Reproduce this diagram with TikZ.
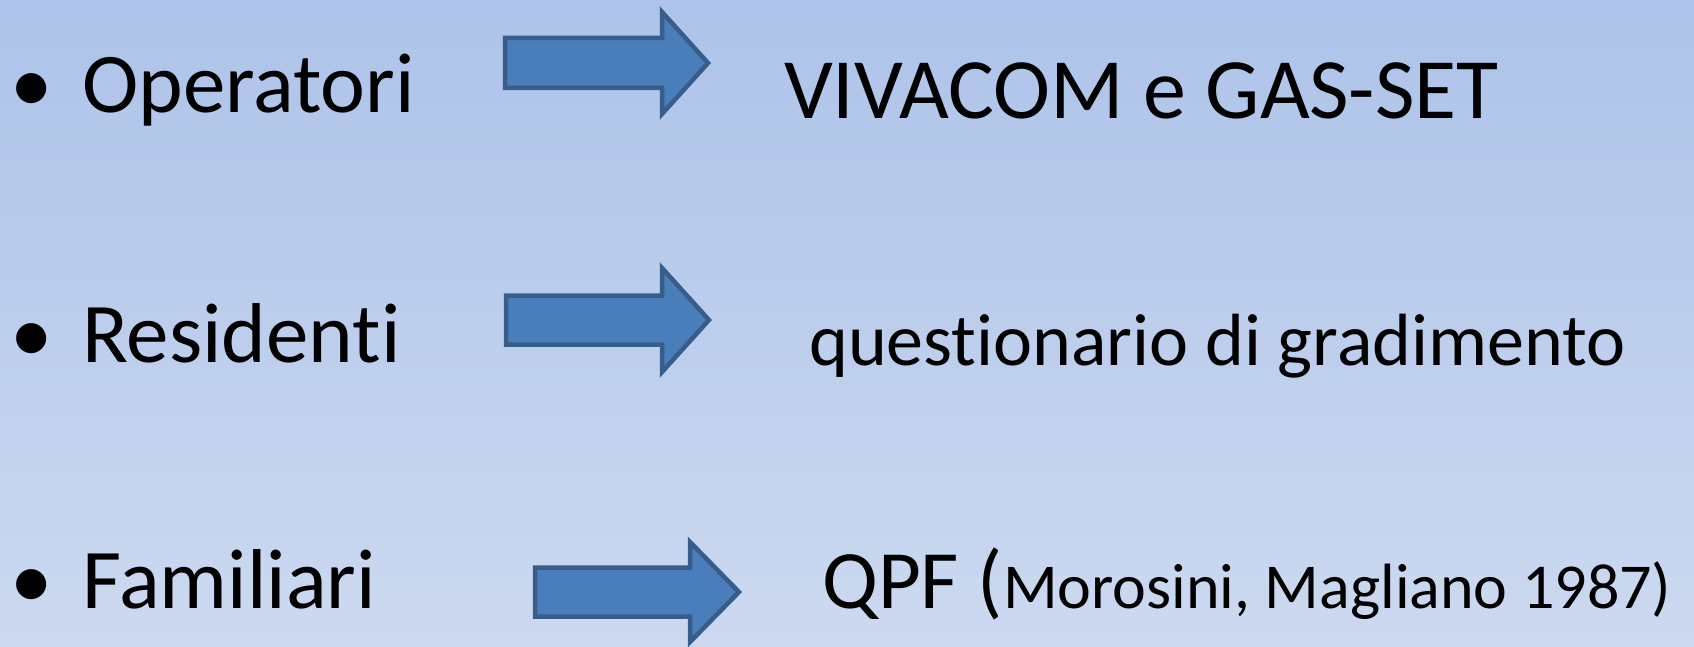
\documentclass[tikz,border=0pt]{standalone}
\usepackage{fontspec}
\setmainfont{Carlito}[Ligatures={NoCommon}]
\definecolor{bgtop}{RGB}{173,195,233}
\definecolor{bgbot}{RGB}{204,217,240}
\definecolor{arrowfill}{RGB}{74,126,187}
\definecolor{arrowline}{RGB}{56,93,138}
\tikzset{
  blockarrow/.style={draw=arrowline, fill=arrowfill, line width=4.5pt, line join=miter},
  leftlabel/.style={anchor=base west, inner sep=0pt, font=\fontsize{85}{95}\selectfont},
  rightlabel/.style={anchor=base west, inner sep=0pt},
}
\newcommand{\bul}{\makebox[72pt][l]{•}}
\begin{document}
\begin{tikzpicture}[x=1pt, y=-1pt]
\shade[top color=bgtop, bottom color=bgbot] (0,0) rectangle (1694,647);
\useasboundingbox (0,0) rectangle (1694,647);
% left labels
\node[leftlabel] (op) at (10,113) {\bul Operatori};
\node[leftlabel] (res) at (10,362) {\bul Residenti};
\node[leftlabel] (fam) at (10,608) {\bul Familiari};
% right labels
\node[rightlabel, font=\fontsize{86}{96}\selectfont] (viv) at (784,119) {VIVACOM e GAS-SET};
\node[rightlabel, font=\fontsize{74}{84}\selectfont] (que) at (809,365) {questionario di gradimento};
\node[rightlabel, font=\fontsize{83}{93}\selectfont] (qpf) at (822,608) {QPF (\fontsize{64}{72}\selectfont Morosini, Magliano 1987)};
% block arrows
\draw[blockarrow] (505,38) -- (662,38) -- (662,12) -- (708,63) -- (662,114) -- (662,88) -- (505,88) -- cycle;
\draw[blockarrow] (506,295.5) -- (662,295.5) -- (662,268) -- (709,320) -- (662,372) -- (662,344.5) -- (506,344.5) -- cycle;
\draw[blockarrow] (535,567.5) -- (690,567.5) -- (690,542) -- (739,592) -- (690,642) -- (690,616.5) -- (535,616.5) -- cycle;
\end{tikzpicture}
\end{document}
